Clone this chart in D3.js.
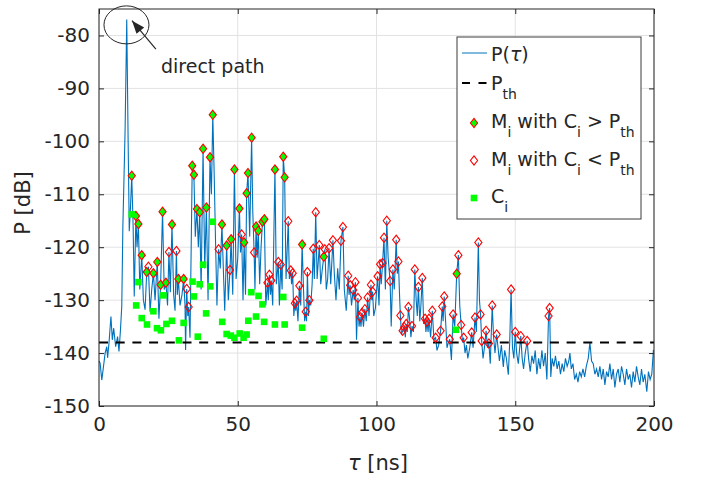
<!DOCTYPE html>
<html>
<head>
<meta charset="utf-8">
<script src="https://cdn.jsdelivr.net/npm/d3@7"></script>
<style>
  body { margin: 0; background: #fff; }
  text { font-family: "DejaVu Sans", sans-serif; fill: #262626; white-space: pre; }
</style>
</head>
<body>
<div id="chart-area"></div>
<script>
// axis ticks
var xTicks = [0, 50, 100, 150, 200];
var yTicks = [-150, -140, -130, -120, -110, -100, -90, -80];

// threshold P_th [dB]
var pTh = -138;

// samples of P(tau) that are not peaks marked below
var pathTau = [0, 0.4, 1.0, 1.6, 2.2, 2.8, 3.1, 3.6, 4.3, 4.8, 5.3, 6.0, 6.7, 7.2, 7.7, 8.2, 8.6, 9.4, 10.0, 10.5,
  10.9, 11.3, 12.3, 12.7, 13.7, 14.7, 16.0, 16.6, 18.4, 19.0, 20.2, 21.6, 23.5, 24.7, 25.7, 26.9, 27.4, 28.2, 29.2, 29.9,
  31.0, 31.2, 32.0, 32.8, 34.7, 35.8, 36.8, 38.1, 39.3, 40.5, 41.5, 42.0, 42.5, 43.7, 44.8, 45.3, 46.6, 48.2, 49.4, 50.0,
  51.0, 51.9, 52.8, 54.3, 55.4, 56.2, 57.0, 57.9, 58.4, 60.1, 61.0, 61.8, 62.6, 63.9, 65.0, 66.0, 67.4, 68.6, 69.4, 70.2,
  70.9, 71.7, 72.7, 73.7, 74.1, 74.8, 75.5, 76.3, 76.8, 77.6, 78.6, 79.9, 80.5, 81.9, 82.4, 83.5, 84.8, 85.4, 86.0, 86.6,
  88.4, 89.1, 90.1, 91.0, 92.0, 92.8, 93.7, 94.4, 95.3, 96.3, 97.3, 98.3, 99.0, 99.6, 100.9, 101.7, 103.2, 104.2, 105.3, 106.4,
  107.5, 108.3, 109.0, 110.4, 111.1, 112.0, 112.4, 113.3, 114.3, 114.7, 115.6, 116.0, 117.0, 117.8, 118.6, 119.5, 120.7, 121.8, 122.4, 124.0,
  124.9, 125.4, 125.9, 127.0, 128.2, 130.0, 131.0, 131.9, 132.4, 132.9, 133.6, 134.8, 136.0, 137.1, 138.4, 139.0, 140.0, 141.0, 142.2, 142.7,
  143.8, 144.3, 145.0, 145.7, 146.2, 146.8, 147.5, 148.0, 149.0, 149.5, 150.5, 151.1, 151.6, 152.5, 153.0, 153.6, 154.8, 155.4, 156.0, 156.6,
  157.2, 157.8, 158.4, 159.0, 159.6, 160.2, 160.8, 161.4, 162.8, 163.3, 163.9, 164.5, 165.1, 165.7, 166.3, 166.9, 167.5, 168.1, 168.7, 169.3,
  169.7, 170.2, 170.8, 171.4, 172.0, 172.6, 173.2, 173.8, 174.4, 175.0, 175.6, 176.3, 176.9, 177.5, 178.1, 178.7, 179.3, 179.9, 180.5, 181.1,
  181.7, 182.3, 182.9, 183.5, 184.1, 184.7, 185.3, 185.9, 186.5, 187.1, 187.7, 188.3, 188.9, 189.5, 190.1, 190.7, 191.3, 191.9, 192.5, 193.1,
  193.7, 194.3, 194.9, 195.5, 196.1, 196.7, 197.4, 198.0, 198.6, 199.2, 199.8];
var pathP = [-141.5, -141.9, -145.1, -142.6, -140.0, -138.8, -140.9, -138.1, -133.1, -137.5, -135.3, -138.8, -136.9, -139.7, -135.9, -131.2, -116.1, -98, -77.0, -100,
  -117, -113, -116, -129.3, -120, -128, -130, -131.8, -132.2, -128, -130, -133.5, -128, -131, -128.5, -129, -132, -129, -131, -129,
  -131, -139.4, -133, -137.1, -118, -120, -128, -124, -130, -110, -106, -119, -131, -124, -124, -132, -130, -129, -126, -122,
  -121, -130, -129, -118, -113, -128, -122, -127, -120, -131, -130, -129, -131, -127, -131, -128, -126, -126, -127, -133,
  -132, -134, -131, -128, -134, -134, -133, -131, -127, -126, -126, -127, -124, -128, -126, -127, -125, -130, -124, -128,
  -128, -132, -129, -131, -130, -137.5, -135, -135, -135, -134, -133, -130, -133, -131.5, -131, -127, -128, -122, -135, -128,
  -125, -129, -136.5, -137, -136, -134, -137, -136, -130, -133, -134, -131, -134.5, -136, -136, -137, -137.5, -139.5, -138.5, -134,
  -134, -139, -138, -141.3, -135, -131, -138, -140, -138.5, -141, -139, -139, -136, -130, -141, -138.5, -139, -142, -137, -140,
  -139, -141.5, -138.5, -142.6, -139.5, -141, -144.1, -138, -139, -141, -140, -142, -139, -141, -143, -140, -141, -143.5, -140.5, -142,
  -139.5, -144, -141, -143, -139.5, -142.5, -140, -145, -144.5, -141, -142.5, -140.5, -143, -141.5, -144, -142, -143.5, -141, -142.5, -141.5,
  -140.0, -143, -142, -145, -144, -145.5, -143.5, -144.5, -143, -144.5, -142.5, -141, -138.0, -141.5, -142, -144, -143, -144.5, -142.5, -145,
  -143, -146, -143.5, -144.5, -142, -145, -143, -146.5, -144, -143, -145.5, -142.5, -144, -146, -143, -145, -144, -146.5, -143.5, -145.5,
  -142.5, -144.5, -146, -143, -145.5, -144, -147.3, -143.5, -145, -144, -139.4];

// peaks M_i whose C_i is above P_th (filled diamonds)
var mHiTau = [11.8, 13.3, 14.2, 15.4, 17.2, 19.6, 21.0, 22.2, 22.9, 24.1, 26.3, 28.6, 30.5, 33.6, 34.2, 35.3, 36.3, 37.5, 38.7, 40.0,
  41.0, 44.3, 46.0, 47.6, 48.8, 50.6, 52.3, 53.2, 53.7, 55.0, 56.6, 57.4, 58.9, 59.6, 63.4, 66.4, 66.9, 73.2, 81.0, 128.9];
var mHiP = [-106.5, -114.1, -115.6, -121.5, -124.7, -124.9, -122.8, -127.1, -113.3, -126.7, -115.7, -126.0, -126.0, -104.6, -106.3, -112.8, -113.4, -101.4, -112.5, -103.0,
  -95.0, -115.7, -119.7, -118.5, -105.3, -112.7, -119.1, -109.8, -106.0, -99.3, -116.1, -116.9, -115.2, -114.7, -105.3, -102.9, -106.8, -119.5, -121.8, -125.0];

// peaks M_i whose C_i is below P_th (hollow diamonds)
var mLoTau = [17.8, 25.2, 27.9, 31.6, 32.3, 43.1, 47.2, 51.4, 55.9, 60.7, 61.4, 62.1, 64.6, 65.5, 68.2, 69.1, 69.8, 70.6, 71.2, 72.2,
  74.5, 75.1, 75.8, 77.2, 78.1, 79.4, 81.4, 82.9, 84.3, 87.2, 87.9, 89.8, 90.5, 91.6, 92.4, 93.3, 94.1, 94.8, 95.8, 96.8,
  98.0, 98.6, 100.4, 101.3, 102.2, 102.7, 103.7, 104.9, 105.9, 107.1, 107.9, 108.6, 109.4, 110.0, 110.7, 111.5, 112.8, 113.8, 115.1, 116.5,
  117.5, 118.2, 118.9, 120.1, 121.3, 123.1, 123.7, 124.4, 126.4, 127.6, 129.5, 130.5, 131.4, 134.3, 135.5, 136.7, 137.5, 137.9, 139.5, 140.5,
  141.7, 143.3, 148.5, 150.0, 152.0, 154.3, 162.0, 162.4];
var mLoP = [-123.7, -120.9, -120.7, -127.9, -131.3, -120.4, -124.3, -117.6, -121.0, -126.7, -125.2, -126.3, -122.8, -123.3, -115.1, -124.4, -124.9, -130.6, -130.1, -127.3,
  -132.2, -124.7, -130.0, -120.3, -113.4, -119.6, -120.4, -120.2, -118.7, -118.8, -116.2, -125.4, -127.2, -128.1, -126.6, -129.6, -133.2, -132.4, -131.7, -129.5,
  -127.1, -128.4, -125.5, -123.2, -123.0, -118.2, -115.0, -126.4, -124.2, -118.6, -122.7, -132.9, -135.8, -135.1, -134.5, -131.3, -134.9, -124.2, -127.5, -125.8,
  -133.5, -134.1, -133.5, -132.0, -137.1, -135.8, -131.2, -129.3, -137.4, -132.7, -121.5, -134.7, -137.1, -136.1, -133.3, -119.1, -132.7, -137.7, -135.8, -138.2,
  -131.0, -136.5, -128.0, -136.0, -136.8, -137.7, -133.0, -131.5];

// C_i values (green squares)
var cTau = [11.8, 13.4, 14.2, 15.4, 17.3, 19.6, 20.9, 22.3, 23.2, 24.3, 26.3, 28.8, 30.5, 33.7, 34.2, 35.6, 36.3, 37.5, 38.6, 40.1,
  41.0, 44.4, 46.0, 47.5, 48.8, 50.7, 52.1, 53.2, 53.8, 54.9, 56.6, 57.5, 58.9, 59.5, 63.4, 66.4, 66.9, 73.2, 81.0, 128.6];
var cP = [-113.8, -131.0, -126.6, -133.4, -134.6, -132.1, -135.3, -135.7, -129.1, -134.5, -133.9, -137.6, -134.3, -126.5, -129.3, -136.9, -127.0, -123.3, -132.5, -127.4,
  -115.2, -134.1, -136.4, -136.7, -137.1, -136.3, -137.1, -136.5, -133.9, -128.5, -133.1, -129.2, -130.8, -134.1, -134.6, -129.4, -134.6, -135.2, -137.3, -135.6];

var blue = '#0072BD', green = '#00FF00', red = '#FF0000', ink = '#262626';

var svg = d3.select('#chart-area').append('svg')
    .attr('width', 702)
    .attr('height', 478);

var x = d3.scaleLinear().domain([0, 200]).range([99, 654]);
var y = d3.scaleLinear().domain([-150, -75]).range([406, 9]);

// grid
svg.append('g').selectAll('line').data(xTicks).enter().append('line')
    .attr('x1', d => x(d)).attr('x2', d => x(d))
    .attr('y1', y(-150)).attr('y2', y(-75))
    .attr('stroke', '#e2e2e2').attr('stroke-width', 1);
svg.append('g').selectAll('line').data(yTicks).enter().append('line')
    .attr('x1', x(0)).attr('x2', x(200))
    .attr('y1', d => y(d)).attr('y2', d => y(d))
    .attr('stroke', '#e2e2e2').attr('stroke-width', 1);

// P(tau): all samples, markers included, in tau order
var samples = [];
pathTau.forEach((t, i) => samples.push([t, pathP[i]]));
mHiTau.forEach((t, i) => samples.push([t, mHiP[i]]));
mLoTau.forEach((t, i) => samples.push([t, mLoP[i]]));
samples.sort((a, b) => a[0] - b[0]);

var line = d3.line().x(d => x(d[0])).y(d => y(d[1]));
svg.append('path')
    .datum(samples)
    .attr('d', line)
    .attr('fill', 'none')
    .attr('stroke', blue)
    .attr('stroke-width', 1.1);

// threshold
svg.append('line')
    .attr('x1', x(0)).attr('x2', x(200))
    .attr('y1', y(pTh)).attr('y2', y(pTh))
    .attr('stroke', '#000').attr('stroke-width', 2)
    .attr('stroke-dasharray', '9,7.7');

var diamond = 'M0,-4.6L3.6,0L0,4.6L-3.6,0Z';

// hollow diamonds
svg.append('g').selectAll('path').data(mLoTau).enter().append('path')
    .attr('d', diamond)
    .attr('transform', (d, i) => 'translate(' + x(d) + ',' + y(mLoP[i]) + ')')
    .attr('fill', 'none').attr('stroke', red).attr('stroke-width', 1.1);

// filled diamonds
svg.append('g').selectAll('path').data(mHiTau).enter().append('path')
    .attr('d', diamond)
    .attr('transform', (d, i) => 'translate(' + x(d) + ',' + y(mHiP[i]) + ')')
    .attr('fill', green).attr('stroke', red).attr('stroke-width', 1.1);

// C_i squares
svg.append('g').selectAll('rect').data(cTau).enter().append('rect')
    .attr('x', d => x(d) - 3.3)
    .attr('y', (d, i) => y(cP[i]) - 3.3)
    .attr('width', 6.6).attr('height', 6.6)
    .attr('fill', green);

// axes (plain hyphen minus like the original)
var fmt = d => String(d);
var xAxis = svg.append('g').attr('transform', 'translate(0,406)')
    .call(d3.axisBottom(x).tickValues(xTicks).tickSize(-5).tickPadding(11).tickFormat(fmt));
var yAxis = svg.append('g').attr('transform', 'translate(99,0)')
    .call(d3.axisLeft(y).tickValues(yTicks).tickSize(-5).tickPadding(9).tickFormat(fmt));
var xTop = svg.append('g').attr('transform', 'translate(0,9)')
    .call(d3.axisTop(x).tickValues(xTicks).tickSize(-5).tickFormat(''));
var yRight = svg.append('g').attr('transform', 'translate(654,0)')
    .call(d3.axisRight(y).tickValues(yTicks).tickSize(-5).tickFormat(''));
[xAxis, yAxis, xTop, yRight].forEach(g => {
    g.select('.domain').remove();
    g.selectAll('.tick line').attr('stroke', ink);
    g.selectAll('.tick text').attr('fill', ink).style('font-size', '20px')
        .style('font-family', '"DejaVu Sans", sans-serif');
});
svg.append('rect')
    .attr('x', x(0)).attr('y', y(-75))
    .attr('width', x(200) - x(0)).attr('height', y(-150) - y(-75))
    .attr('fill', 'none').attr('stroke', ink).attr('stroke-width', 1);

// axis labels
var xl = svg.append('text').attr('x', 378).attr('y', 470)
    .attr('text-anchor', 'middle').style('font-size', '21px');
xl.append('tspan').style('font-style', 'italic').text('\u03c4');
xl.append('tspan').text(' [ns]');
svg.append('text')
    .attr('transform', 'translate(30,203) rotate(-90)')
    .attr('text-anchor', 'middle').style('font-size', '21px')
    .text('P [dB]');

// direct path annotation
svg.append('ellipse')
    .attr('cx', x(9.9)).attr('cy', y(-78.0))
    .attr('rx', 22.5).attr('ry', 19)
    .attr('fill', 'none').attr('stroke', ink).attr('stroke-width', 1);
var tip = [x(11.9), y(-77.2)], tail = [x(20.5), y(-82.6)];
svg.append('line')
    .attr('x1', tail[0]).attr('y1', tail[1]).attr('x2', tip[0]).attr('y2', tip[1])
    .attr('stroke', ink).attr('stroke-width', 1.2);
var ang = Math.atan2(tip[1] - tail[1], tip[0] - tail[0]);
var hl = 13, hw = 5;
var bx = tip[0] - hl * Math.cos(ang), by = tip[1] - hl * Math.sin(ang);
svg.append('path')
    .attr('d', 'M' + tip[0] + ',' + tip[1] +
        'L' + (bx + hw * Math.sin(ang)) + ',' + (by - hw * Math.cos(ang)) +
        'L' + (bx - hw * Math.sin(ang)) + ',' + (by + hw * Math.cos(ang)) + 'Z')
    .attr('fill', ink);
svg.append('text').attr('x', 161).attr('y', 73)
    .style('font-size', '19px').text('direct path');

// legend
var lg = svg.append('g');
lg.append('rect').attr('x', 457).attr('y', 37).attr('width', 184).attr('height', 182)
    .attr('fill', '#fff').attr('stroke', '#3a3a3a').attr('stroke-width', 1);
lg.append('line').attr('x1', 462).attr('x2', 487).attr('y1', 53).attr('y2', 53)
    .attr('stroke', blue).attr('stroke-width', 1);
lg.append('line').attr('x1', 462).attr('x2', 487).attr('y1', 83).attr('y2', 83)
    .attr('stroke', '#000').attr('stroke-width', 2).attr('stroke-dasharray', '8,8.5');
lg.append('path').attr('d', diamond).attr('transform', 'translate(474,123)')
    .attr('fill', green).attr('stroke', red).attr('stroke-width', 1.1);
lg.append('path').attr('d', diamond).attr('transform', 'translate(474,160.5)')
    .attr('fill', 'none').attr('stroke', red).attr('stroke-width', 1.1);
lg.append('rect').attr('x', 470.7).attr('y', 194.7).attr('width', 6.6).attr('height', 6.6)
    .attr('fill', green);

// legend labels: [text, subscript or italic]
var legendRows = [
    { y: 61, parts: [['P('], ['\u03c4', 'it'], [')']] },
    { y: 90, parts: [['P'], ['th', 'sub']] },
    { y: 128, parts: [['M'], ['i', 'sub'], [' with C'], ['i', 'sub'], [' > P'], ['th', 'sub']] },
    { y: 165.5, parts: [['M'], ['i', 'sub'], [' with C'], ['i', 'sub'], [' < P'], ['th', 'sub']] },
    { y: 203, parts: [['C'], ['i', 'sub']] }
];
legendRows.forEach(r => {
    var t = lg.append('text').attr('x', 491).attr('y', r.y).style('font-size', '19px');
    var down = false;
    r.parts.forEach(p => {
        var s = t.append('tspan').text(p[0]);
        if (p[1] === 'sub') {
            s.attr('dy', 9).style('font-size', '14px');
            down = true;
        } else {
            if (down) s.attr('dy', -9);
            down = false;
            if (p[1] === 'it') s.style('font-style', 'italic');
        }
    });
});
</script>
</body>
</html>
